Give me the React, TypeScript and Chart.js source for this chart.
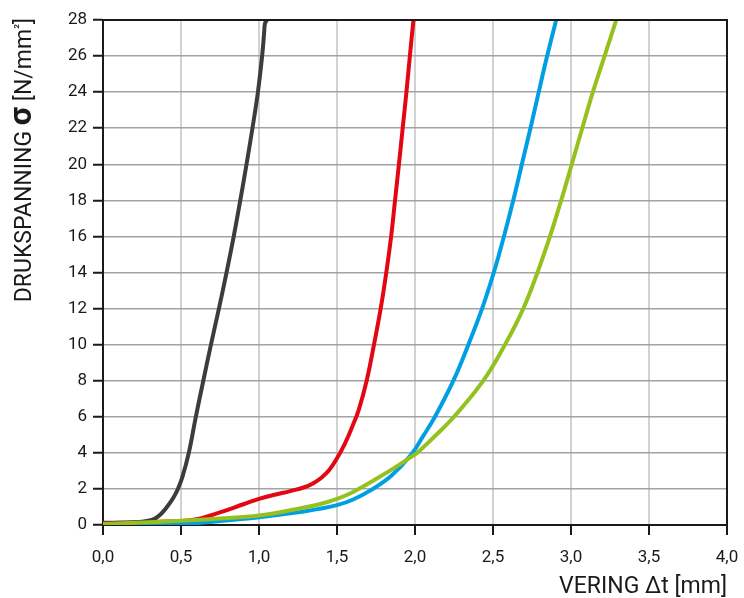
import React, { useEffect, useRef } from "react";
import { Chart, registerables } from "chart.js";

Chart.register(...registerables);

// X: VERING Δt [mm], Y: DRUKSPANNING σ [N/mm²]
const blackX = [0, 0.1, 0.2, 0.28, 0.33, 0.37, 0.41, 0.45, 0.48, 0.51, 0.55, 0.595, 0.643, 0.692, 0.743, 0.792, 0.838, 0.88, 0.92, 0.958, 0.993, 1.02, 1.033, 1.038, 1.05];
const blackY = [0.08, 0.12, 0.15, 0.22, 0.35, 0.6, 1.0, 1.5, 2.0, 2.7, 4.0, 6.0, 8.0, 10, 12, 14, 16, 18, 20, 22, 24, 26, 27.3, 27.8, 28];

const redX = [0, 0.25, 0.5, 0.6, 0.75, 0.9, 1.0, 1.1, 1.2, 1.3, 1.35, 1.4, 1.45, 1.5, 1.55, 1.6, 1.64, 1.69, 1.737, 1.78, 1.816, 1.847, 1.872, 1.897, 1.921, 1.945, 1.967, 1.99];
const redY = [0.12, 0.15, 0.22, 0.32, 0.7, 1.15, 1.45, 1.68, 1.88, 2.12, 2.33, 2.62, 3.05, 3.7, 4.5, 5.5, 6.4, 8.0, 10, 12, 14, 16, 18, 20, 22, 24, 26, 28];

const blueX = [0, 0.25, 0.5, 0.75, 1.0, 1.25, 1.375, 1.5, 1.6, 1.72, 1.85, 1.975, 2.05, 2.128, 2.246, 2.342, 2.43, 2.505, 2.57, 2.63, 2.685, 2.74, 2.793, 2.847, 2.905];
const blueY = [0.02, 0.02, 0.05, 0.22, 0.43, 0.7, 0.88, 1.1, 1.4, 1.95, 2.75, 3.9, 4.9, 6.0, 8, 10, 12, 14, 16, 18, 20, 22, 24, 26, 28];

const greenX = [0, 0.25, 0.5, 0.75, 1.0, 1.25, 1.375, 1.5, 1.6, 1.75, 1.87, 1.97, 2.02, 2.13, 2.25, 2.438, 2.577, 2.694, 2.785, 2.865, 2.937, 3.005, 3.072, 3.14, 3.215, 3.29];
const greenY = [0.05, 0.14, 0.23, 0.36, 0.53, 0.9, 1.12, 1.45, 1.82, 2.55, 3.18, 3.75, 4.05, 4.95, 6, 8, 10, 12, 14, 16, 18, 20, 22, 24, 26, 28];

const X_MIN = 0;
const X_MAX = 4;
const X_STEP = 0.5;
const Y_MIN = 0;
const Y_MAX = 28;
const Y_STEP = 2;

const xTitle = "VERING Δt [mm]";
const yTitleParts = [
  { t: "DRUKSPANNING ", f: "23px Roboto", dy: 0 },
  { t: "σ", f: "bold 32px Roboto", dy: 0 },
  { t: " [N/mm", f: "23px Roboto", dy: 0 },
  { t: "²", f: "13px Roboto", dy: -8 },
  { t: "]", f: "23px Roboto", dy: 0 },
];

const pts = (xs: number[], ys: number[]) => xs.map((x, i) => ({ x, y: ys[i] }));

const framePlugin = {
  id: "frame",
  afterDraw(chart: any) {
    const { ctx, chartArea } = chart;
    ctx.save();
    ctx.strokeStyle = "#1a1a1a";
    ctx.lineWidth = 2;
    ctx.beginPath();
    ctx.moveTo(chartArea.left, chartArea.top);
    ctx.lineTo(chartArea.right, chartArea.top);
    ctx.lineTo(chartArea.right, chartArea.bottom);
    ctx.stroke();

    // x title
    ctx.fillStyle = "#1a1a1a";
    ctx.font = "23px Roboto";
    ctx.textAlign = "right";
    ctx.textBaseline = "alphabetic";
    ctx.fillText(xTitle, chartArea.right, 593);

    // y title (rotated, mixed fonts)
    let total = 0;
    for (const p of yTitleParts) {
      ctx.font = p.f;
      total += ctx.measureText(p.t).width;
    }
    ctx.translate(31, 18 + total);
    ctx.rotate(-Math.PI / 2);
    ctx.textAlign = "left";
    let x = 0;
    for (const p of yTitleParts) {
      ctx.font = p.f;
      ctx.fillText(p.t, x, p.dy);
      x += ctx.measureText(p.t).width;
    }
    ctx.restore();
  },
};

export default function App() {
  const ref = useRef<HTMLCanvasElement>(null);
  useEffect(() => {
    document.body.style.margin = "0";
    const tickFont = { family: "Roboto", size: 17 };
    const line = (data: any, color: string) => ({
      data,
      showLine: true,
      borderColor: color,
      backgroundColor: color,
      borderWidth: 4,
      pointRadius: 0,
      tension: 0.4,
      fill: false,
    });
    const chart = new Chart(ref.current!, {
      type: "scatter",
      data: {
        datasets: [
          line(pts(greenX, greenY), "#95c11f"),
          line(pts(blueX, blueY), "#009fe3"),
          line(pts(blackX, blackY), "#3c3c3b"),
          line(pts(redX, redY), "#e30613"),
        ],
      },
      options: {
        animation: false,
        responsive: false,
        layout: { padding: { top: 20, right: 17, left: 0, bottom: 0 } },
        plugins: { legend: { display: false }, tooltip: { enabled: false } },
        scales: {
          x: {
            type: "linear",
            min: X_MIN,
            max: X_MAX,
            ticks: {
              stepSize: X_STEP,
              callback: (v: any) => Number(v).toFixed(1).replace(".", ","),
              font: tickFont,
              color: "#1a1a1a",
              padding: 13,
              maxRotation: 0,
            },
            grid: { color: "#d2d2d2", lineWidth: 2, tickColor: "#1a1a1a", tickLength: 10, tickWidth: 2 },
            border: { color: "#1a1a1a", width: 2 },
            afterFit: (s: any) => {
              s.height = 73;
              s.paddingRight = 0;
              s.paddingLeft = 0;
            },
          },
          y: {
            type: "linear",
            min: Y_MIN,
            max: Y_MAX,
            ticks: { stepSize: Y_STEP, font: tickFont, color: "#1a1a1a", padding: 6 },
            grid: { color: "#a3a3a3", lineWidth: 1.5, tickColor: "#1a1a1a", tickLength: 10, tickWidth: 2 },
            border: { color: "#1a1a1a", width: 2 },
            afterFit: (s: any) => {
              s.width = 103;
            },
          },
        },
      },
      plugins: [framePlugin],
    });
    return () => chart.destroy();
  }, []);
  return (
    <div style={{ width: 744, height: 598 }}>
      <canvas ref={ref} width={744} height={598} style={{ display: "block" }} />
    </div>
  );
}
